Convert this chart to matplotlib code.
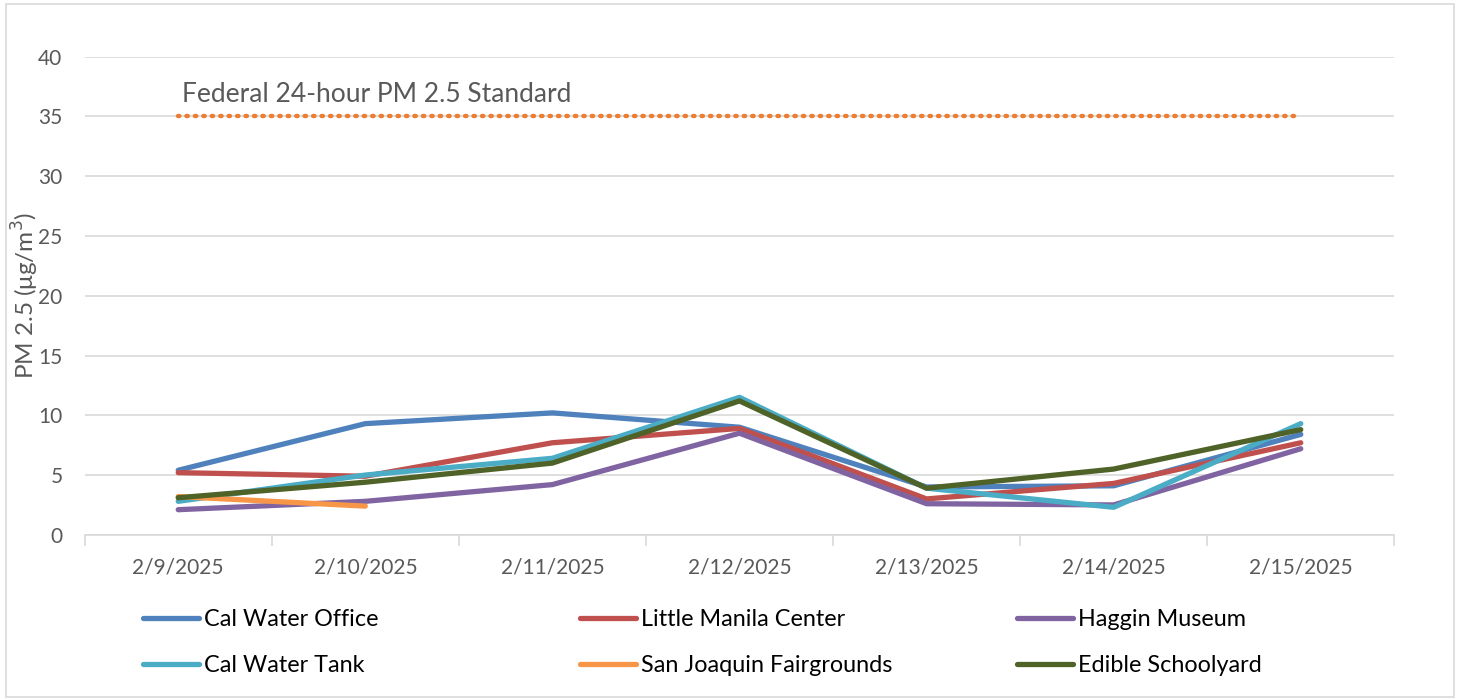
import matplotlib.pyplot as plt
import numpy as np

# dates on the x axis
dates = ["2/9/2025", "2/10/2025", "2/11/2025", "2/12/2025",
         "2/13/2025", "2/14/2025", "2/15/2025"]

# PM 2.5 readings per site (ug/m3)
cal_water_office = [5.4, 9.3, 10.2, 9.0, 4.0, 4.1, 8.4]
little_manila = [5.2, 4.9, 7.7, 8.9, 3.0, 4.3, 7.7]
haggin_museum = [2.1, 2.8, 4.2, 8.5, 2.6, 2.5, 7.2]
cal_water_tank = [2.8, 5.0, 6.4, 11.5, 3.9, 2.3, 9.3]
fairgrounds = [3.2, 2.4]
edible_schoolyard = [3.1, 4.4, 6.0, 11.2, 3.9, 5.5, 8.8]
standard = 35

plt.rcParams['font.family'] = ['Lato', 'DejaVu Sans']

fig = plt.figure(figsize=(14.6, 7), dpi=100)
ax = fig.add_axes([0.058, 0.236, 0.897, 0.683])

x = np.arange(len(dates))

# federal standard line
ax.plot(x, [standard] * len(x), color="#ED7D31", linestyle=(0, (0.3, 1.6)),
        linewidth=3.2, dash_capstyle='round')
ax.text(0.02, standard + 0.8, "Federal 24-hour PM 2.5 Standard",
        fontsize=19, color="#595959", va='bottom')

l1, = ax.plot(x, cal_water_office, color="#4F81BD", lw=3.8,
              label="Cal Water Office", solid_capstyle='round')
l2, = ax.plot(x, little_manila, color="#C0504D", lw=3.8,
              label="Little Manila Center", solid_capstyle='round')
l3, = ax.plot(x, haggin_museum, color="#8064A2", lw=3.8,
              label="Haggin Museum", solid_capstyle='round')
l4, = ax.plot(x, cal_water_tank, color="#4BACC6", lw=3.8,
              label="Cal Water Tank", solid_capstyle='round')
l5, = ax.plot(x[:len(fairgrounds)], fairgrounds, color="#F79646", lw=3.8,
              label="San Joaquin Fairgrounds", solid_capstyle='round')
l6, = ax.plot(x, edible_schoolyard, color="#4F6228", lw=3.8,
              label="Edible Schoolyard", solid_capstyle='round')

ax.set_xlim(-0.5, len(dates) - 0.5)
ax.set_ylim(0, 40)
ax.set_yticks(np.arange(0, 41, 5))
ax.grid(axis='y', color="#D9D9D9", linewidth=1.2)
ax.set_axisbelow(True)

ax.set_xticks(x)
ax.set_xticklabels(dates)
ax.set_xticks(np.arange(-0.5, len(dates), 1), minor=True)
ax.tick_params(axis='x', which='major', length=0, pad=16, labelsize=15,
               labelcolor="#595959")
ax.tick_params(axis='x', which='minor', length=8, color="#D9D9D9", width=1.2)
ax.tick_params(axis='y', length=0, pad=16, labelsize=15, labelcolor="#595959")

for s in ['top', 'right', 'left']:
    ax.spines[s].set_visible(False)
ax.spines['bottom'].set_color("#D9D9D9")
ax.spines['bottom'].set_linewidth(1.2)

# the label sits over the tick numbers, as in the original
ax.set_ylabel("PM 2.5 (\u03bcg/m$^3$)", fontsize=17.5, color="#595959")
ax.yaxis.set_label_coords(-0.033, 0.5)

# legend entries placed one by one (3 columns x 2 rows)
legend_pos = [(l1, 143, 620), (l2, 580, 620), (l3, 1017, 620),
              (l4, 143, 666), (l5, 580, 666), (l6, 1017, 666)]
for h, px, py in legend_pos:
    fig.legend(handles=[h], loc='center left', bbox_to_anchor=(px / 1460, 1 - py / 700),
               frameon=False, fontsize=16.8, handlelength=2.4, handletextpad=0.2,
               borderaxespad=0, borderpad=0)

# outer border
fig.patches.append(plt.Rectangle((0.004, 0.004), 0.992, 0.99, transform=fig.transFigure,
                                 fill=False, edgecolor="#D9D9D9", linewidth=1.2))

plt.savefig("out.png", dpi=100)
